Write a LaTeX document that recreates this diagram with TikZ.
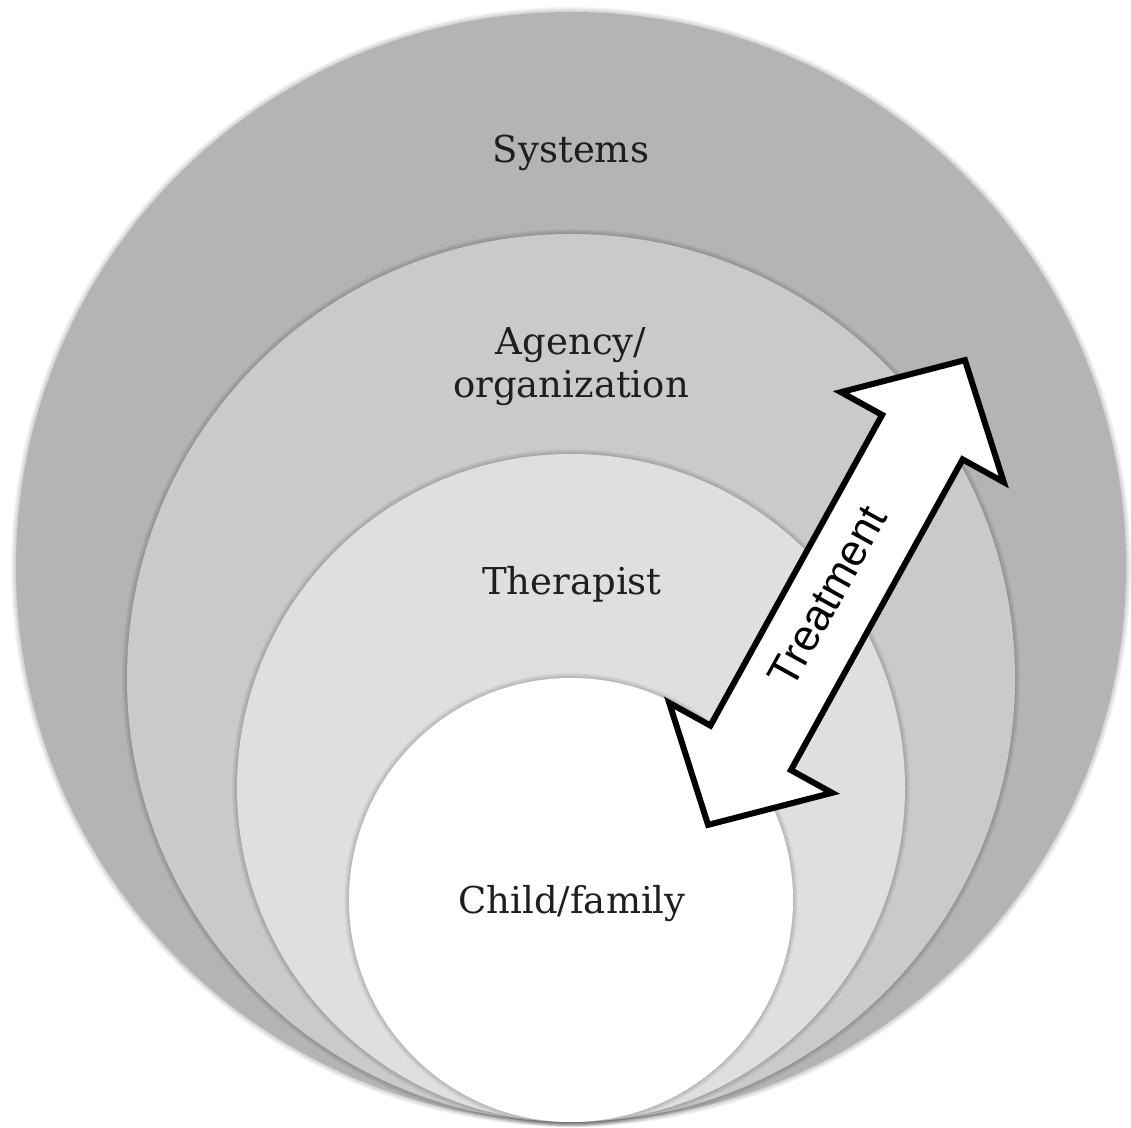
\documentclass[tikz,border=0pt]{standalone}
\usepackage{fontspec}
\setmainfont{DejaVu Serif}
\newfontfamily\arrowfont{Liberation Sans}
\definecolor{sysgray}{RGB}{180,180,180}
\definecolor{agygray}{RGB}{202,202,202}
\definecolor{thrgray}{RGB}{223,223,223}
\definecolor{labelink}{RGB}{30,30,30}
\begin{document}
\begin{tikzpicture}[x=1pt,y=1pt,
  ring/.style={circle, inner sep=0pt, outer sep=0pt},
  lbl/.style={text=labelink, font=\fontsize{37}{44}\selectfont, anchor=base, inner sep=0pt},
  arrowbody/.style={draw=black, fill=white, line width=6pt, line join=miter}]
\useasboundingbox (0,0) rectangle (1131,1127);
\fill[white] (0,0) rectangle (1131,1127);

% soft halo under a disc, then the disc itself
\newcommand\ringdisc[4]{%
  \foreach \k in {1,...,5}{\fill[black, opacity=0.035] (#1) circle ({#2+\k});}
  \node[ring, fill=#3, minimum size={2*#2}] (#4) at (#1) {};
}

\coordinate (cs) at (571,560);
\coordinate (ca) at (571,449);
\coordinate (ct) at (571,339);
\coordinate (cc) at (571,227);

\ringdisc{cs}{555}{sysgray}{systems}
\ringdisc{ca}{444}{agygray}{agency}
\ringdisc{ct}{334}{thrgray}{therapist}
\ringdisc{cc}{222}{white}{child}

\node[lbl] (tSys) at (571,964) {Systems};
\node[lbl] (tAgy) at (571,772) {Agency/};
\node[lbl] (tOrg) at (571,729) {organization};
\node[lbl] (tThr) at (572,532) {Therapist};
\node[lbl] (tChd) at (572,214) {Child/family};

% two-headed treatment arrow, laid out along its own axis
\begin{scope}[shift={(836.5,534.5)}, rotate=61.07]
  \draw[arrowbody] (265.5,0) -- (177.5,93) -- (177.5,46) -- (-177.5,46)
     -- (-177.5,93) -- (-265.5,0) -- (-177.5,-93) -- (-177.5,-46)
     -- (177.5,-46) -- (177.5,-93) -- cycle;
  \node[inner sep=0pt, rotate=61.07, font=\arrowfont\fontsize{44}{48}\selectfont] (tTrt) at (-8,6) {Treatment};
\end{scope}
\end{tikzpicture}
\end{document}
